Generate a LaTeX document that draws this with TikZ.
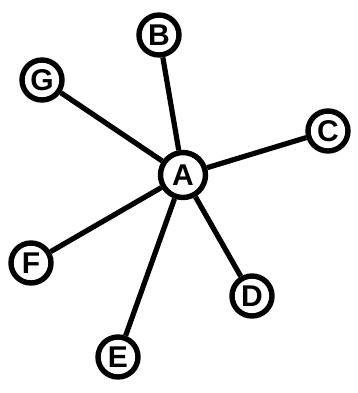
\documentclass[tikz,border=0pt]{standalone}
\usepackage{fontspec}
\setmainfont{Liberation Sans}
\usetikzlibrary{positioning}

\begin{document}
\begin{tikzpicture}[x=0.5pt, y=-0.5pt,
    vertex/.style={circle, draw=black, line width=2.7pt, fill=white, inner sep=0pt, minimum size=20pt, font=\bfseries\fontsize{15}{15}\selectfont},
    spoke/.style={line width=2.6pt}]

  % keep the page the size of the reference
  \useasboundingbox (0, 0) rectangle (358, 393);

  % hub and outer nodes
  \node[vertex, minimum size=22.5pt] (A) at (183, 175) {A};
  \node[vertex] (B) at (159, 35) {B};
  \node[vertex] (G) at (42, 80) {G};
  \node[vertex] (C) at (328, 131) {C};
  \node[vertex] (D) at (252, 296) {D};
  \node[vertex] (F) at (31, 263) {F};
  \node[vertex] (E) at (118, 357) {E};

  % spokes out of A
  \foreach \n in {B, G, C, D, F, E} {
    \draw[spoke] (A) -- (\n);
  }

\end{tikzpicture}
\end{document}
